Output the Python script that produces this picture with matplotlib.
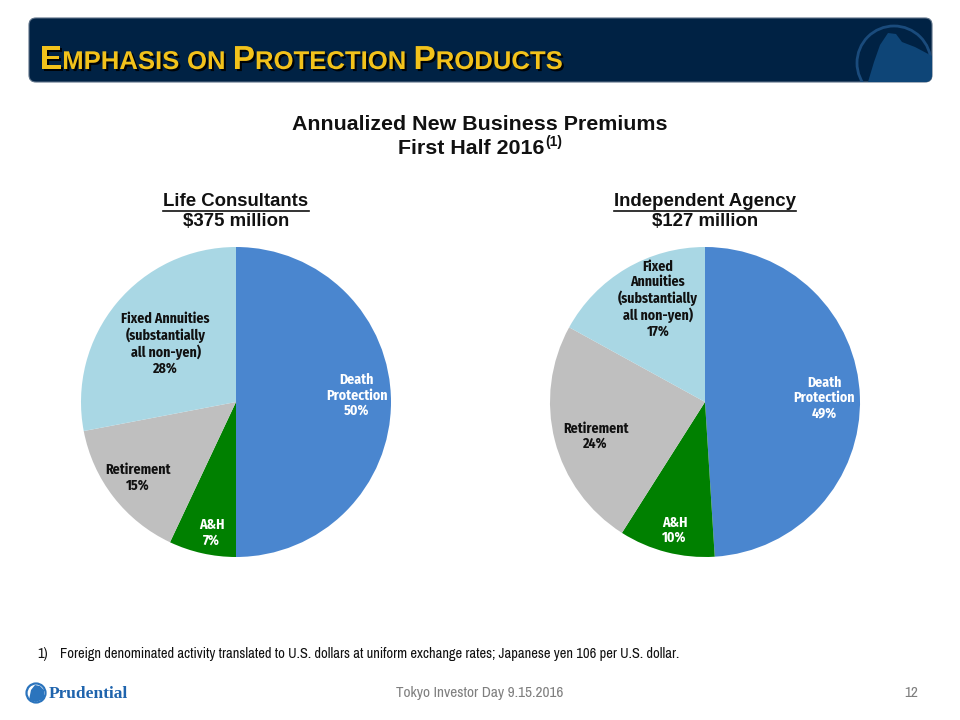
import matplotlib
matplotlib.use("Agg")
import matplotlib.pyplot as plt
import matplotlib.patches as mpatches
import matplotlib.patheffects as pe
import numpy as np

# ---------------- data ----------------
categories = ["Death\nProtection", "A&H", "Retirement",
              "Fixed Annuities\n(substantially\nall non-yen)"]
categories_right = ["Death\nProtection", "A&H", "Retirement",
                    "Fixed\nAnnuities\n(substantially\nall non-yen)"]
life_consultants = [50, 7, 15, 28]
independent_agency = [49, 10, 24, 17]
chart_titles = ["Life Consultants", "Independent Agency"]
chart_totals = ["$375 million", "$127 million"]

# ---------------- style ----------------
colors = ["#4A86CF", "#008000", "#BFBFBF", "#A9D7E4"]
text_colors = ["white", "white", "#111111", "#111111"]
NARROW_B = ["Fira Sans Condensed", "IBM Plex Sans Condensed", "Liberation Sans", "DejaVu Sans"]
NARROW = ["Archivo Narrow", "Fira Sans Condensed", "Liberation Sans", "DejaVu Sans"]
SANS = ["Liberation Sans", "DejaVu Sans"]
# radial distance of each label (fraction of radius) and angle offset (deg)
label_pos_left = [(0.78, 3), (0.86, 2), (0.80, 0), (0.59, 0)]
label_pos_right = [(0.77, 0), (0.85, 1), (0.74, 3), (0.73, -6)]

W, H = 960, 720
fig = plt.figure(figsize=(9.6, 7.2), dpi=100)
fig.patch.set_facecolor("white")

ov = fig.add_axes([0, 0, 1, 1])
ov.set_xlim(0, W)
ov.set_ylim(H, 0)
ov.axis("off")

# header bar
bar = mpatches.FancyBboxPatch((29, 18), 903, 64,
                              boxstyle="round,pad=0,rounding_size=7",
                              fc="#002244", ec="#5a6f86", lw=0.8, zorder=1)
ov.add_patch(bar)
logo_circ = mpatches.Circle((894, 63), 37, fill=False, ec="#1a4b7c", lw=2.0, zorder=2)
logo_circ.set_clip_path(bar)
ov.add_patch(logo_circ)
rock = mpatches.Polygon([(868, 82), (874, 62), (880, 45), (888, 33), (896, 34), (902, 42),
                         (915, 47), (932, 56), (932, 82)],
                        closed=True, fc="#0e4577", ec="none", zorder=2)
rock.set_clip_path(bar)
ov.add_patch(rock)

fig.canvas.draw()
renderer = fig.canvas.get_renderer()

# small-caps title
pieces = [("E", 24), ("MPHASIS ", 18.5), ("ON ", 18.5), ("P", 24), ("ROTECTION ", 18.5),
          ("P", 24), ("RODUCTS", 18.5)]
x_pix = 40.0
shadow = [pe.SimplePatchShadow(offset=(1.5, -1.5), shadow_rgbFace="black", alpha=0.9), pe.Normal()]
for s, size in pieces:
    t = fig.text(x_pix / W, 1 - 69 / H, s, fontsize=size, fontweight="bold",
                 family=SANS, color="#F2C21B", ha="left", va="baseline",
                 path_effects=shadow, zorder=5)
    bb = t.get_window_extent(renderer)
    x_pix += bb.width

# main titles
fig.text(480 / W, 1 - 125 / H, "Annualized New Business Premiums", ha="center", va="center",
         fontsize=15.4, fontweight="bold", family=SANS, color="#111111")
t2 = fig.text(471 / W, 1 - 148 / H, "First Half 2016", ha="center", va="center",
              fontsize=15.4, fontweight="bold", family=SANS, color="#111111")
bb2 = t2.get_window_extent(renderer)
fig.text((bb2.x1 + 1) / W, 1 - 142 / H, "(1)", ha="left", va="center",
         fontsize=10, fontweight="bold", family=SANS, color="#111111")

centers = [(236, 402), (705, 402)]
R = 155
datasets = [life_consultants, independent_agency]
cats = [categories, categories_right]
lpos = [label_pos_left, label_pos_right]

for (cx, cy), vals, title, total, cat, lp in zip(centers, datasets, chart_titles,
                                                 chart_totals, cats, lpos):
    ax = fig.add_axes([(cx - R) / W, (H - cy - R) / H, 2 * R / W, 2 * R / H])
    wedges, _ = ax.pie(vals, colors=colors, startangle=90, counterclock=False,
                       radius=1.0, wedgeprops=dict(linewidth=0))
    ax.set_xlim(-1, 1)
    ax.set_ylim(-1, 1)
    ax.set_aspect("equal")
    ax.axis("off")
    for w, c, v, tc, (r, dang) in zip(wedges, cat, vals, text_colors, lp):
        ang = np.deg2rad((w.theta1 + w.theta2) / 2 + dang)
        ax.text(r * np.cos(ang), r * np.sin(ang), f"{c}\n{v}%", ha="center", va="center",
                fontsize=10, fontweight="bold", family=NARROW_B, color=tc,
                linespacing=1.1)
    t = fig.text(cx / W, 1 - 201 / H, title, ha="center", va="center", fontsize=13.4,
                 fontweight="bold", family=SANS, color="#111111")
    bb = t.get_window_extent(renderer)
    ov.plot([bb.x0, bb.x1], [211, 211], color="#111111", lw=1.2)
    fig.text(cx / W, 1 - 222 / H, total, ha="center", va="center", fontsize=13.4,
             fontweight="bold", family=SANS, color="#111111")

# footnote
fig.text(37 / W, 1 - 654 / H, "1)", ha="left", va="center", fontsize=10.45,
         family=NARROW, color="#111111")
fig.text(60 / W, 1 - 654 / H,
         "Foreign denominated activity translated to U.S. dollars at uniform exchange rates; "
         "Japanese yen 106 per U.S. dollar.",
         ha="left", va="center", fontsize=10.45, family=NARROW, color="#111111")

# footer
fig.text(480 / W, 1 - 693 / H, "Tokyo Investor Day 9.15.2016", ha="center", va="center",
         fontsize=11, family=NARROW, color="#7f7f7f")
fig.text(918 / W, 1 - 693 / H, "12", ha="right", va="center",
         fontsize=11, family=NARROW, color="#7f7f7f")

# Prudential logo
ov.add_patch(mpatches.Circle((36, 693), 9.5, fc="white", ec="#2b74bd", lw=1.6, zorder=3))
ov.add_patch(mpatches.Polygon([(29, 700), (31, 690), (35, 685), (40, 686), (44, 690),
                               (44, 699), (36, 702)], closed=True, fc="#2b74bd",
                              ec="none", zorder=4))
fig.text(49 / W, 1 - 694 / H, "Prudential", ha="left", va="center", fontsize=12.5,
         fontweight="bold", family=["Liberation Serif", "DejaVu Serif"], color="#1f64ad")

fig.savefig("out.png", dpi=100, facecolor="white")
